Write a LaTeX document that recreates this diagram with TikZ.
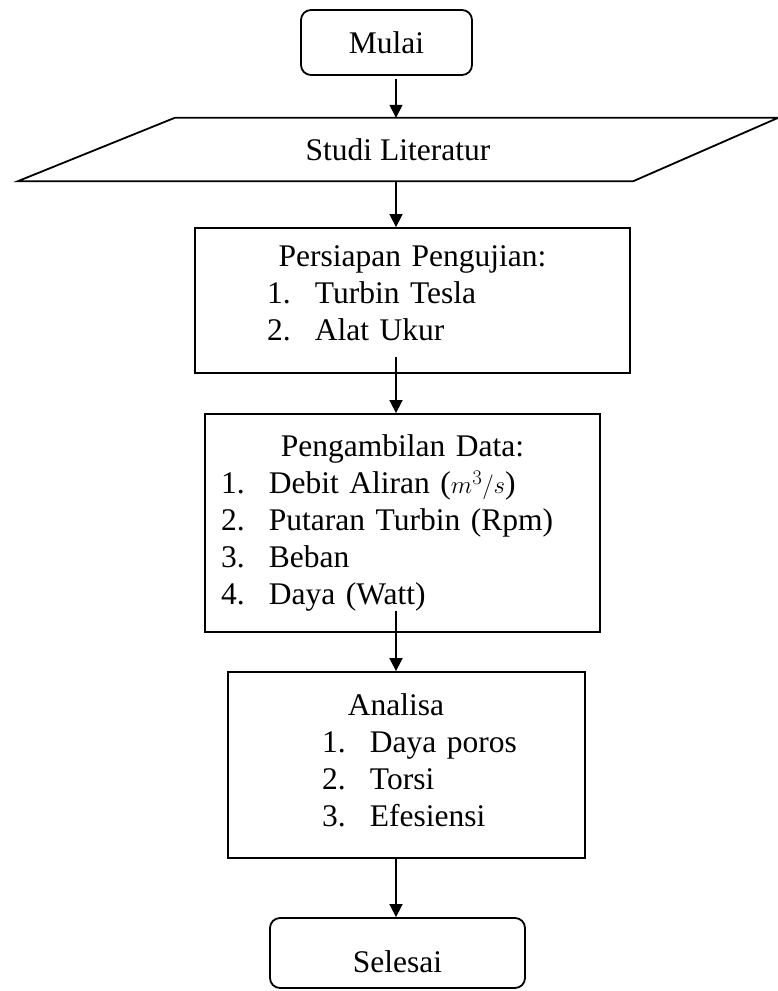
\documentclass[tikz,border=0pt]{standalone}
\usepackage{fontspec}
\setmainfont{Liberation Serif}
\usetikzlibrary{arrows.meta,positioning}
\tikzset{
  >={Triangle[length=13pt,width=13pt]},
  every node/.style={font=\fontsize{31.5}{37}\selectfont},
  term/.style={draw, line width=1.8pt, rounded corners=10pt, minimum width=171pt, minimum height=65pt},
  io/.style={rectangle, minimum width=615pt, minimum height=63pt},
  outline/.style={line width=1.8pt, line join=miter},
  block/.style={draw, rectangle, line width=1.8pt},
  txt/.style={align=left, inner sep=0pt},
  flow/.style={->, line width=1.6pt},
}
\newcommand{\flowitem}[3]{\hspace*{#1}\makebox[48pt][l]{#2}#3}

\begin{document}
\begin{tikzpicture}[x=1pt,y=-1pt]
    \useasboundingbox (0,0) rectangle (778,991);
    \coordinate (axis) at (396,0);

    \node [term] (start) at (386.5,42.5) {Mulai};

    \node [io] (lit) at (398,149.5) {Studi Literatur};
    \draw [outline] ([xshift=-72.5pt]lit.south west) -- ([xshift=84.5pt]lit.north west)
        -- ([xshift=72.5pt]lit.north east) -- ([xshift=-72.5pt]lit.south east) -- cycle;

    \node [block, minimum width=435pt, minimum height=145pt] (prep) at (412.5,300.5) {};
    \node [txt, text width=435pt] (preptext) at (412.5,293.5)
    {
        \makebox[\hsize]{Persiapan Pengujian:}
        \\
        \flowitem{72pt}{1.}{Turbin Tesla}
        \\
        \flowitem{72pt}{2.}{Alat Ukur}
    };

    \node [block, minimum width=395pt, minimum height=218pt] (data) at (402.5,523) {};
    \node [txt, text width=395pt] (datatext) at (402.5,523)
    {
        \makebox[\hsize]{Pengambilan Data:}
        \\
        \flowitem{16pt}{1.}{Debit Aliran (\(m^3/s\))}
        \\
        \flowitem{16pt}{2.}{Putaran Turbin (Rpm)}
        \\
        \flowitem{16pt}{3.}{Beban}
        \\
        \flowitem{16pt}{4.}{Daya (Watt)}
    };

    \node [block, minimum width=357pt, minimum height=186pt] (anal) at (406.5,765) {};
    \node [txt, text width=357pt] (analtext) at (406.5,760)
    {
        \makebox[\hsize]{\hspace*{-21pt}Analisa}
        \\
        \flowitem{94pt}{1.}{Daya poros}
        \\
        \flowitem{94pt}{2.}{Torsi}
        \\
        \flowitem{94pt}{3.}{Efesiensi}
    };

    \node [term, minimum width=255pt, minimum height=70pt, text height=39pt, text depth=0pt] (stop) at (397.5,953) {Selesai};

    \draw[flow] ([yshift=-3pt]start.south -| axis) -- (lit.north -| axis);
    \draw[flow] (lit.south -| axis) -- (prep.north -| axis);
    \draw[flow] ([yshift=17pt]prep.south -| axis) -- (data.north -| axis);
    \draw[flow] ([yshift=22pt]data.south -| axis) -- (anal.north -| axis);
    \draw[flow] (anal.south -| axis) -- (stop.north -| axis);

\end{tikzpicture}
\end{document}
